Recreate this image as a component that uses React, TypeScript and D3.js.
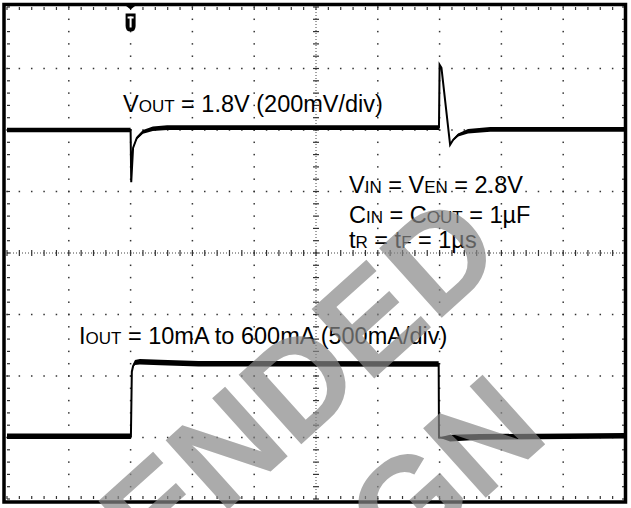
import * as d3 from 'd3';

// oscilloscope screen: 10 horizontal divisions, 8 vertical divisions (centre = 0)
const divsX = [0, 10];
const divsY = [-4, 4];
const triggerAt = 2;

// VOUT trace (time in div, level in div, noise half-band in div)
const voutTime = [0, 2.0, 2.01, 2.04, 2.1, 2.2, 2.36, 2.59, 3.1, 6.99, 7.0, 7.03, 7.17, 7.22, 7.3, 7.46, 7.82, 10];
const voutLevel = [2.0, 2.0, 1.15, 1.71, 1.87, 1.97, 2.02, 2.04, 2.04, 2.04, 3.06, 3.01, 1.76, 1.84, 1.92, 1.98, 2.01, 2.01];
const voutNoise = [0.038, 0.038, 0, 0.015, 0.025, 0.03, 0.038, 0.038, 0.038, 0.038, 0, 0, 0, 0.015, 0.025, 0.038, 0.038, 0.038];

// IOUT trace
const ioutTime = [0, 2.005, 2.02, 2.04, 2.07, 2.15, 2.48, 3.1, 6.985, 6.99, 7.17, 7.65, 10];
const ioutLevel = [-2.98, -2.98, -1.93, -1.84, -1.78, -1.77, -1.78, -1.8, -1.805, -3.0, -3.01, -2.99, -2.97];
const ioutNoise = [0.045, 0.045, 0, 0.02, 0.04, 0.045, 0.045, 0.045, 0.045, 0.0, 0.055, 0.045, 0.045];

// watermark lines
const watermark = ['NOT RECOMMENDED', 'FOR NEW DESIGN'];

const W = 631;
const H = 508;
const font = '"Liberation Sans", Arial, sans-serif';

type Pt = { t: number; v: number; n: number };
const toPts = (t: number[], v: number[], n: number[]): Pt[] => t.map((d, i) => ({ t: d, v: v[i], n: n[i] }));

export default function App() {
  const x = d3.scaleLinear().domain(divsX).range([7, 625]);
  const y = d3.scaleLinear().domain(divsY).range([499, 7]);

  const majorX = x.ticks(10);
  const majorY = y.ticks(8);
  const minorX = x.ticks(50);
  const minorY = y.ticks(40);

  const line = d3.line<Pt>().x((d) => x(d.t)).y((d) => y(d.v));
  const band = d3
    .area<Pt>()
    .x((d) => x(d.t))
    .y0((d) => y(d.v - d.n))
    .y1((d) => y(d.v + d.n));

  const vout = toPts(voutTime, voutLevel, voutNoise);
  const iout = toPts(ioutTime, ioutLevel, ioutNoise);

  const dots: JSX.Element[] = [];
  majorX.forEach((mx, i) => {
    if (mx === 0 || mx === 10 || mx === 5) return;
    minorY.forEach((my, j) => {
      dots.push(<rect key={`vx${i}-${j}`} x={x(mx) - 0.75} y={y(my) - 0.75} width={1.5} height={1.5} fill="#333" />);
    });
  });
  majorY.forEach((my, i) => {
    if (my === -4 || my === 4 || my === 0) return;
    minorX.forEach((mx, j) => {
      dots.push(<rect key={`hy${i}-${j}`} x={x(mx) - 0.75} y={y(my) - 0.75} width={1.5} height={1.5} fill="#333" />);
    });
  });

  const tx = x(triggerAt);

  return (
    <svg width={W} height={H} style={{ position: 'absolute', left: 0, top: 0, background: '#fff' }}>
      <rect x={0} y={0} width={W} height={H} fill="#fff" />
      {dots}
      {/* centre crosshair */}
      <line x1={x(0)} x2={x(10)} y1={y(0)} y2={y(0)} stroke="#444" strokeDasharray="1 2" />
      <line x1={x(5)} x2={x(5)} y1={y(-4)} y2={y(4)} stroke="#444" strokeDasharray="1 2" />
      {minorX.map((mx, i) => (
        <line key={`cx${i}`} x1={x(mx)} x2={x(mx)} y1={y(0) - 3} y2={y(0) + 3} stroke="#333" strokeWidth={1.2} />
      ))}
      {minorY.map((my, i) => (
        <line key={`cy${i}`} x1={x(5) - 3} x2={x(5) + 3} y1={y(my)} y2={y(my)} stroke="#333" strokeWidth={1.2} />
      ))}
      {/* edge ticks */}
      {minorX.map((mx, i) => (
        <g key={`ex${i}`} stroke="#333" strokeWidth={1.2}>
          <line x1={x(mx)} x2={x(mx)} y1={y(4)} y2={y(4) + 3} />
          <line x1={x(mx)} x2={x(mx)} y1={y(-4)} y2={y(-4) - 3} />
        </g>
      ))}
      {minorY.map((my, i) => (
        <g key={`ey${i}`} stroke="#333" strokeWidth={1.2}>
          <line x1={x(0)} x2={x(0) + 3} y1={y(my)} y2={y(my)} />
          <line x1={x(10)} x2={x(10) - 3} y1={y(my)} y2={y(my)} />
        </g>
      ))}

      {/* traces */}
      <path d={band(vout) ?? ''} fill="#000" />
      <path d={line(vout) ?? ''} fill="none" stroke="#000" strokeWidth={2} />
      <path d={band(iout) ?? ''} fill="#000" />
      <path d={line(iout) ?? ''} fill="none" stroke="#000" strokeWidth={2} />

      {/* frame */}
      <rect x={4} y={4.5} width={621.5} height={497.5} fill="none" stroke="#000" strokeWidth={3.5} />

      {/* trigger marker */}
      <path d={`M${tx - 7},4 H${tx + 7} L${tx},9.5 Z`} fill="#000" />
      <path d={`M${tx - 5},13.5 H${tx + 5} V26 Q${tx + 5},31.5 ${tx},31.5 Q${tx - 5},31.5 ${tx - 5},26 Z`} fill="#000" />
      <rect x={tx - 3} y={16.5} width={6} height={2} fill="#fff" />
      <rect x={tx - 1} y={16.5} width={2} height={11} fill="#fff" />

      {/* labels */}
      <g fontFamily={font} fontSize={23.5} fill="#000">
        <text x={123} y={112}>
          V<tspan fontSize={17}>OUT</tspan> = 1.8V (200mV/div)
        </text>
        <text x={349} y={193}>
          V<tspan fontSize={17}>IN</tspan> = V<tspan fontSize={17}>EN</tspan> = 2.8V
        </text>
        <text x={349} y={222.5}>
          C<tspan fontSize={17}>IN</tspan> = C<tspan fontSize={17}>OUT</tspan> = 1µF
        </text>
        <text x={349} y={248}>
          t<tspan fontSize={17}>R</tspan> = t<tspan fontSize={17}>F</tspan> = 1µs
        </text>
        <text x={79} y={344}>
          I<tspan fontSize={17}>OUT</tspan> = 10mA to 600mA (500mA/div)
        </text>
      </g>

      {/* watermark */}
      <g fontFamily={font} fontWeight="bold" fontSize={136} fill="#888" opacity={0.7}>
        <text transform="translate(508,258) rotate(-42)" textAnchor="end">{watermark[0]}</text>
        <text transform="translate(552,438) rotate(-42)" textAnchor="end">{watermark[1]}</text>
      </g>
    </svg>
  );
}
